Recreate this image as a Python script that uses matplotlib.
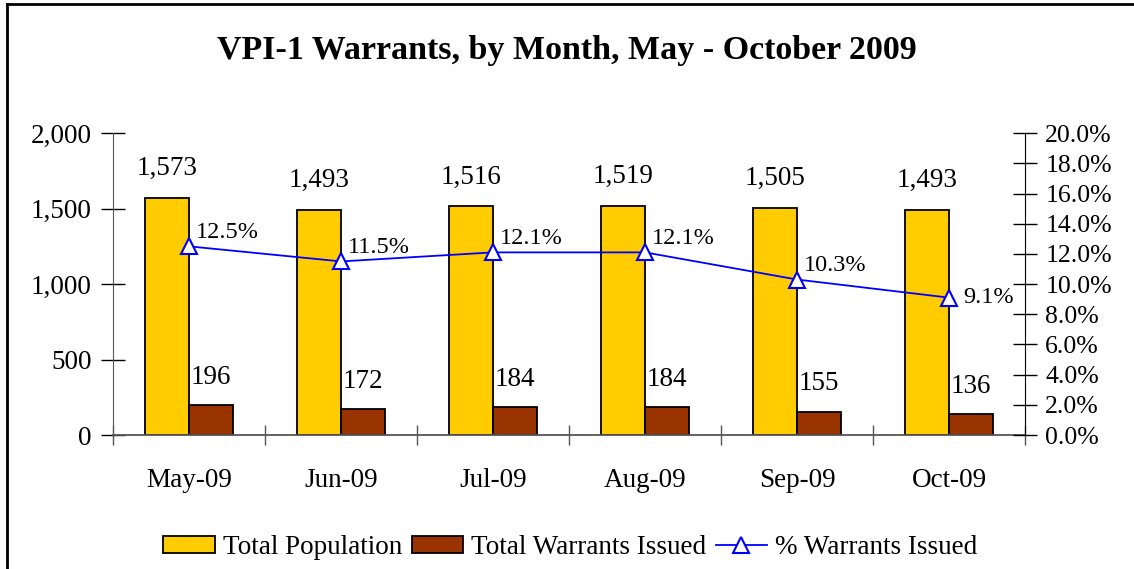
import matplotlib.pyplot as plt
from matplotlib.lines import Line2D
from matplotlib.ticker import FuncFormatter, FixedLocator
import numpy as np

# chart data
months = ["May-09", "Jun-09", "Jul-09", "Aug-09", "Sep-09", "Oct-09"]
population = [1573, 1493, 1516, 1519, 1505, 1493]
warrants = [196, 172, 184, 184, 155, 136]
pct_warrants = [12.5, 11.5, 12.1, 12.1, 10.3, 9.1]

plt.rcParams['font.family'] = ['Liberation Serif', 'DejaVu Serif']

fig = plt.figure(figsize=(11.34, 5.69), dpi=100)
ax = fig.add_axes([0.0996, 0.2355, 0.8044, 0.5305])
ax2 = ax.twinx()

x = np.arange(len(months))
w = 0.29
b1 = ax.bar(x - w / 2, population, w, color="#FFCC00", edgecolor="black", linewidth=1.3, label="Total Population", zorder=2)
b2 = ax.bar(x + w / 2, warrants, w, color="#993300", edgecolor="black", linewidth=1.3, label="Total Warrants Issued", zorder=2)

for i in range(len(months)):
    ax.annotate(f"{population[i]:,}", (x[i] - w / 2, population[i]), xytext=(0, 12),
                textcoords="offset points", ha="center", va="bottom", fontsize=19.5)
    ax.annotate(f"{warrants[i]:,}", (x[i] + w / 2, warrants[i]), xytext=(0, 11),
                textcoords="offset points", ha="center", va="bottom", fontsize=19.5)

ax.set_xlim(-0.5, len(months) - 0.5)
ax.set_ylim(0, 2000)
ax.set_yticks([0, 500, 1000, 1500, 2000])
ax.yaxis.set_major_formatter(FuncFormatter(lambda v, p: f"{int(v):,}"))
ax.set_xticks(x)
ax.set_xticklabels(months)
ax.xaxis.set_minor_locator(FixedLocator(np.arange(-0.5, len(months), 1.0)))
ax.tick_params(axis="x", which="major", length=0, labelsize=19.5, pad=24)
ax.tick_params(axis="x", which="minor", direction="inout", length=14, width=1, color="#555555")
ax.tick_params(axis="y", direction="inout", length=17, width=1, labelsize=19.5, pad=7)

ax2.plot(x, pct_warrants, color="#0000FF", linewidth=1.3, marker="^", markersize=11,
         markerfacecolor="white", markeredgecolor="#0000FF", markeredgewidth=1.5, zorder=3)
for i in range(len(months)):
    if i == len(months) - 1:
        off = (10, 0)
    else:
        off = (5, 10)
    ax2.annotate(f"{pct_warrants[i]:.1f}%", (x[i], pct_warrants[i]), xytext=off,
                 textcoords="offset points", ha="left", va="center", fontsize=17.5)
ax2.set_ylim(0, 20)
ax2.set_yticks(np.arange(0, 20.1, 2))
ax2.yaxis.set_major_formatter(FuncFormatter(lambda v, p: f"{v:.1f}%"))
ax2.tick_params(axis="y", direction="inout", length=17, width=1, labelsize=18.5, pad=6)

for a in (ax, ax2):
    a.spines["top"].set_visible(False)
ax.spines["right"].set_visible(False)
ax2.spines["left"].set_visible(False)
ax2.spines["bottom"].set_visible(False)
ax.spines["left"].set_color("#555555")
ax.spines["bottom"].set_color("#555555")
ax.spines["bottom"].set_linewidth(1.3)
ax2.spines["right"].set_color("black")

fig.suptitle("VPI-1 Warrants, by Month, May - October 2009", y=0.938, fontsize=24.5, fontweight="bold")

line_handle = Line2D([0], [0], color="#0000FF", linewidth=1.3, marker="^", markersize=11,
                     markerfacecolor="white", markeredgecolor="#0000FF", markeredgewidth=1.5)
fig.legend([b1, b2, line_handle], ["Total Population", "Total Warrants Issued", "% Warrants Issued"],
           loc="center", bbox_to_anchor=(0.503, 0.037), ncol=3, frameon=False, fontsize=19.5,
           handlelength=1.9, handleheight=0.6, handletextpad=0.3, columnspacing=0.35)

# border on top and left of the chart area
fig.add_artist(Line2D([0.006, 1.0], [0.993, 0.993], color="black", linewidth=2, transform=fig.transFigure))
fig.add_artist(Line2D([0.0066, 0.0066], [0.0, 0.993], color="black", linewidth=2, transform=fig.transFigure))

fig.savefig("out.png", dpi=100)
